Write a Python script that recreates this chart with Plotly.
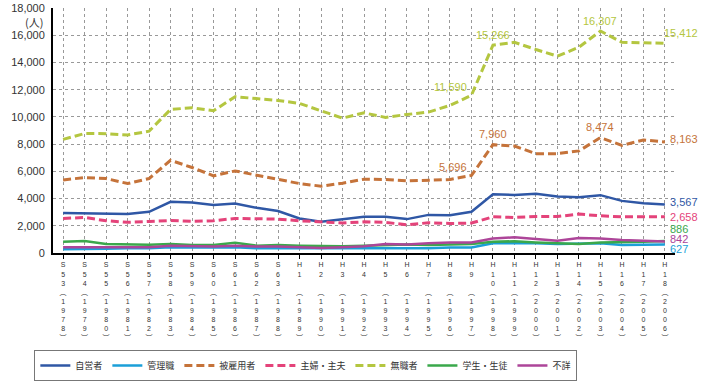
import plotly.graph_objects as go

eras = ["S53","S54","S55","S56","S57","S58","S59","S60","S61","S62","S63",
        "H1","H2","H3","H4","H5","H6","H7","H8","H9","H10","H11","H12","H13",
        "H14","H15","H16","H17","H18"]
years = list(range(1978, 2007))

jieisha = [2930,2900,2860,2860,3030,3760,3710,3530,3640,3320,3080,
           2540,2300,2490,2660,2660,2490,2800,2780,3030,4320,4270,4350,4150,
           4100,4250,3830,3660,3567]
kanrishoku = [270,270,320,340,340,420,400,400,420,350,350,
              350,350,300,300,350,350,350,400,400,710,730,710,660,
              710,710,590,590,627]
hikoyosha = [5370,5540,5470,5100,5470,6810,6280,5670,6030,5710,5420,
             5100,4910,5130,5420,5400,5300,5370,5400,5696,7960,7860,7300,7300,
             7500,8474,7910,8300,8163]
shufu = [2540,2610,2370,2250,2320,2390,2320,2370,2540,2540,2490,
         2370,2290,2200,2290,2250,2070,2220,2170,2200,2660,2610,2680,2680,
         2860,2730,2660,2680,2658]
mushoku = [8350,8780,8770,8670,8950,10550,10670,10450,11480,11330,11210,
           10990,10430,9910,10300,9960,10180,10350,10840,11590,15266,15480,14950,14460,
           15120,16307,15480,15430,15412]
gakusei = [830,880,660,610,610,660,590,590,760,540,590,
           540,490,490,540,590,630,590,630,660,830,860,780,730,
           660,780,780,830,886]
fusho = [420,420,420,420,420,540,490,470,540,470,470,
         420,370,420,490,660,630,710,780,780,1070,1150,1030,900,
         1100,1070,950,900,842]

series = [
    ("自営者", jieisha, "#2f57a5", "solid", 2.5),
    ("管理職", kanrishoku, "#1b9fd8", "solid", 2.5),
    ("被雇用者", hikoyosha, "#c5733a", "8px,4px", 3),
    ("主婦・主夫", shufu, "#e4437a", "8px,4px", 3),
    ("無職者", mushoku, "#b4c640", "8px,4px", 3),
    ("学生・生徒", gakusei, "#3aa84b", "solid", 2.5),
    ("不詳", fusho, "#ad4599", "solid", 2.5),
]

x = list(range(len(eras)))

def tick_label(era, year):
    chars = list(era)
    if len(chars) == 2:
        chars.append("\u00a0")
    chars.append("︵")
    chars += list(str(year))
    chars.append("︶")
    return "<br>".join(chars)

ticktext = [tick_label(e, y) for e, y in zip(eras, years)]

fig = go.Figure()
for name, vals, color, dash, w in series:
    fig.add_trace(go.Scatter(x=x, y=vals, mode="lines", name=name,
                             line=dict(color=color, width=w, dash=dash)))

num_font = "Liberation Sans, Arial, Noto Sans CJK JP, sans-serif"
callouts = [
    (mushoku, 19, "#b4c640", "right", "bottom", -2, 0),
    (mushoku, 20, "#b4c640", "center", "bottom", 0, 2),
    (mushoku, 25, "#b4c640", "center", "bottom", 0, 2),
    (mushoku, 28, "#b4c640", "left", "bottom", -3, 2),
    (hikoyosha, 19, "#c5733a", "right", "bottom", -2, 0),
    (hikoyosha, 20, "#c5733a", "center", "bottom", 0, 3),
    (hikoyosha, 25, "#c5733a", "center", "bottom", 0, 3),
    (hikoyosha, 28, "#c5733a", "left", "middle", 3, 3),
    (jieisha, 28, "#2f57a5", "left", "middle", 3, 2),
    (shufu, 28, "#e4437a", "left", "middle", 3, 0),
    (gakusei, 28, "#3aa84b", "left", "middle", 3, 12),
    (fusho, 28, "#ad4599", "left", "middle", 3, 3),
    (kanrishoku, 28, "#1b9fd8", "left", "middle", 3, -5),
]
for vals, i, color, xa, ya, xs, ys in callouts:
    fig.add_annotation(x=i, y=vals[i], xref="x", yref="y", text=f"{vals[i]:,}",
                       showarrow=False, xanchor=xa, yanchor=ya, xshift=xs, yshift=ys,
                       font=dict(size=11, color=color, family=num_font))

fig.add_annotation(x=0, y=17000, xref="paper", yref="y", text="(人)", showarrow=False,
                   xanchor="right", yanchor="middle", xshift=-8,
                   font=dict(size=11, color="#333333", family="Noto Sans CJK JP"))

fig.update_layout(
    width=704, height=388,
    margin=dict(l=53, r=29, t=8, b=134),
    plot_bgcolor="white", paper_bgcolor="white",
    font=dict(family="Noto Sans CJK JP, Liberation Sans, sans-serif", color="#333333"),
    showlegend=True,
    legend=dict(orientation="h", x=-0.03, xanchor="left", y=-0.39, yanchor="top",
                bordercolor="#777777", borderwidth=1, bgcolor="white",
                font=dict(size=9, family="Noto Sans CJK JP", color="#333333"),
                itemwidth=30, tracegroupgap=0),
)
fig.update_xaxes(range=[-0.47, 28.47], tickmode="array", tickvals=x, ticktext=ticktext,
                 tickangle=0, tickfont=dict(size=7, family=num_font, color="#333333"),
                 showgrid=True, gridcolor="#999999", griddash="dot", gridwidth=1,
                 showline=True, linecolor="black", linewidth=2, automargin=False,
                 ticks="outside", ticklen=4, tickcolor="black", zeroline=False)
fig.update_yaxes(range=[0, 18000], dtick=2000, tickformat=",",
                 tickfont=dict(size=11, family=num_font, color="#333333"),
                 showgrid=True, gridcolor="#999999", griddash="dot", gridwidth=1,
                 showline=True, linecolor="black", linewidth=2, zeroline=False,
                 automargin=False, ticks="", ticklabelstandoff=4)

fig.write_html("out.html", config={"displayModeBar": False},
               post_script="document.body.style.margin='0px';")
